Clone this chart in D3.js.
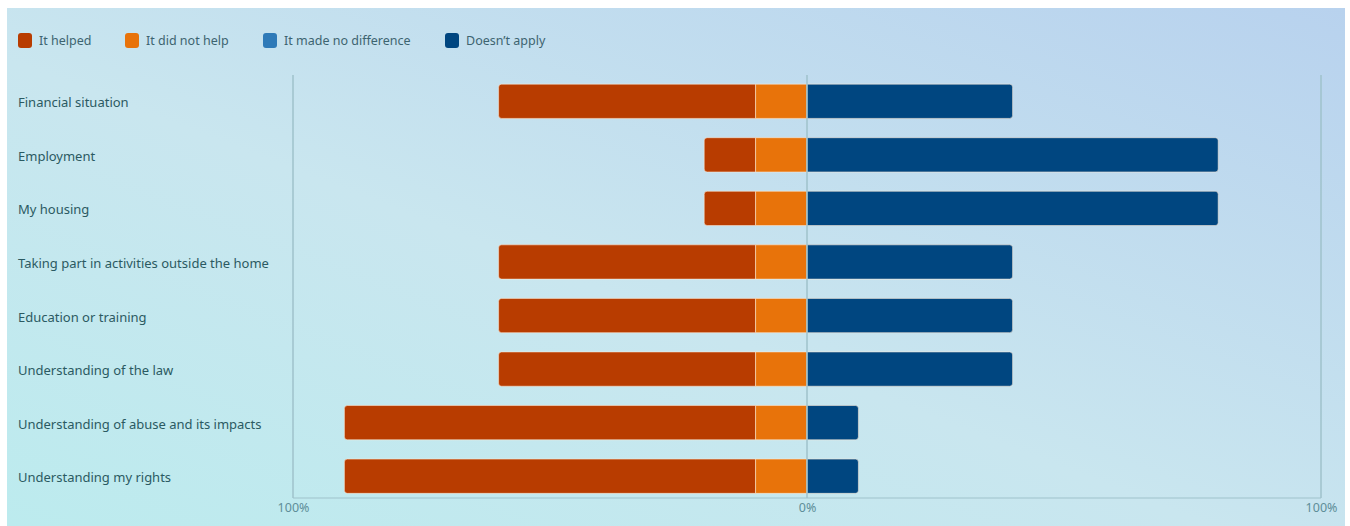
<!DOCTYPE html>
<html>
<head>
<meta charset="utf-8">
<script src="https://cdn.jsdelivr.net/npm/d3@7"></script>
<style>
  html, body { margin: 0; padding: 0; background: #ffffff; }
  svg { display: block; }
  text { font-family: "Noto Sans", "Open Sans", sans-serif; }
</style>
</head>
<body>
<svg id="chart" width="1350" height="526"></svg>
<script>
// Survey outcomes, in percent of respondents
const categories = [
  "Financial situation",
  "Employment",
  "My housing",
  "Taking part in activities outside the home",
  "Education or training",
  "Understanding of the law",
  "Understanding of abuse and its impacts",
  "Understanding my rights"
];
const itHelped        = [50, 10, 10, 50, 50, 50, 80, 80];
const itDidNotHelp    = [10, 10, 10, 10, 10, 10, 10, 10];
const madeNoDifference = [0, 0, 0, 0, 0, 0, 0, 0];
const doesNotApply    = [40, 80, 80, 40, 40, 40, 10, 10];

const seriesNames  = ["It helped", "It did not help", "It made no difference", "Doesn\u2019t apply"];
const seriesColors = ["#b83c00", "#e8730a", "#2e7ab8", "#004680"];
const tickValues = [-100, 0, 100];
const tickLabels = ["100%", "0%", "100%"];

const svg = d3.select("#chart");
const W = 1350, H = 526;

// Panel background with soft diagonal gradient
const defs = svg.append("defs");
const grad = defs.append("linearGradient")
  .attr("id", "bg").attr("x1", "0%").attr("y1", "100%").attr("x2", "100%").attr("y2", "0%");
grad.append("stop").attr("offset", "0%").attr("stop-color", "#bcebee");
grad.append("stop").attr("offset", "45%").attr("stop-color", "#c9e6ef");
grad.append("stop").attr("offset", "100%").attr("stop-color", "#b8d2ee");
svg.append("rect").attr("x", 7).attr("y", 8).attr("width", 1338).attr("height", H - 8)
  .attr("fill", "url(#bg)");

const x = d3.scaleLinear().domain([-100, 100]).range([293, 1321]);
const y = d3.scaleBand().domain(categories).range([74.5, 503]).paddingInner(0.36).paddingOuter(0.18);

// Frame lines
const gridColor = "#9fc2cb";
svg.append("line").attr("x1", x(-100)).attr("x2", x(-100)).attr("y1", 75).attr("y2", 498)
  .attr("stroke", gridColor).attr("stroke-width", 1.5);
svg.append("line").attr("x1", x(100)).attr("x2", x(100)).attr("y1", 75).attr("y2", 498)
  .attr("stroke", gridColor).attr("stroke-width", 1.5);
svg.append("line").attr("x1", x(-100)).attr("x2", x(100)).attr("y1", 498).attr("y2", 498)
  .attr("stroke", gridColor).attr("stroke-width", 1);

// Build diverging stacks: helped + did not help to the left of zero, the rest to the right
const rows = categories.map((c, i) => {
  const segs = [];
  let left = -(itHelped[i] + itDidNotHelp[i] + madeNoDifference[i] / 2);
  [itHelped[i], itDidNotHelp[i], madeNoDifference[i], doesNotApply[i]].forEach((v, k) => {
    segs.push({ cat: c, k, x0: left, x1: left + v });
    left += v;
  });
  return segs.filter(s => s.x1 - s.x0 > 0);
});

function segPath(x0, x1, y0, h, rl, rr) {
  const p = d3.path();
  p.moveTo(x0 + rl, y0);
  p.lineTo(x1 - rr, y0);
  if (rr) p.arcTo(x1, y0, x1, y0 + rr, rr);
  p.lineTo(x1, y0 + h - rr);
  if (rr) p.arcTo(x1, y0 + h, x1 - rr, y0 + h, rr);
  p.lineTo(x0 + rl, y0 + h);
  if (rl) p.arcTo(x0, y0 + h, x0, y0 + h - rl, rl);
  p.lineTo(x0, y0 + rl);
  if (rl) p.arcTo(x0, y0, x0 + rl, y0, rl);
  p.closePath();
  return p.toString();
}

const barG = svg.append("g");
rows.forEach(segs => {
  segs.forEach((s, j) => {
    const rl = j === 0 ? 3 : 0;
    const rr = j === segs.length - 1 ? 3 : 0;
    barG.append("path")
      .attr("d", segPath(x(s.x0), x(s.x1), y(s.cat), y.bandwidth(), rl, rr))
      .attr("fill", seriesColors[s.k])
      .attr("stroke", "rgba(255,235,215,0.55)")
      .attr("stroke-width", 1);
  });
});

// Zero line on top of bars
svg.append("line").attr("x1", x(0)).attr("x2", x(0)).attr("y1", 75).attr("y2", 498)
  .attr("stroke", gridColor).attr("stroke-width", 1.5);

// Category labels
svg.append("g").selectAll("text").data(categories).join("text")
  .attr("x", 18)
  .attr("y", d => y(d) + y.bandwidth() / 2 + 1.5)
  .attr("dy", "0.35em")
  .attr("font-size", 13)
  .attr("fill", "#2b5a62")
  .text(d => d);

// Bottom tick labels
const xAxis = d3.axisBottom(x).tickValues(tickValues)
  .tickFormat((d, i) => tickLabels[i]).tickSize(0).tickPadding(5);
const axG = svg.append("g").attr("transform", "translate(0,498)").call(xAxis);
axG.select(".domain").remove();
axG.selectAll("text").attr("font-size", 12.5).attr("fill", "#5e8e99")
  .attr("font-family", "\"Noto Sans\", sans-serif");

// Legend
const legendX = [18, 125, 263, 445];
const lg = svg.append("g").selectAll("g").data(seriesNames).join("g")
  .attr("transform", (d, i) => `translate(${legendX[i]},33)`);
lg.append("rect").attr("width", 14).attr("height", 15).attr("rx", 3)
  .attr("fill", (d, i) => seriesColors[i]);
lg.append("text").attr("x", 21).attr("y", 8).attr("dy", "0.35em")
  .attr("font-size", 12.5).attr("fill", "#3d6470").text(d => d);
</script>
</body>
</html>
